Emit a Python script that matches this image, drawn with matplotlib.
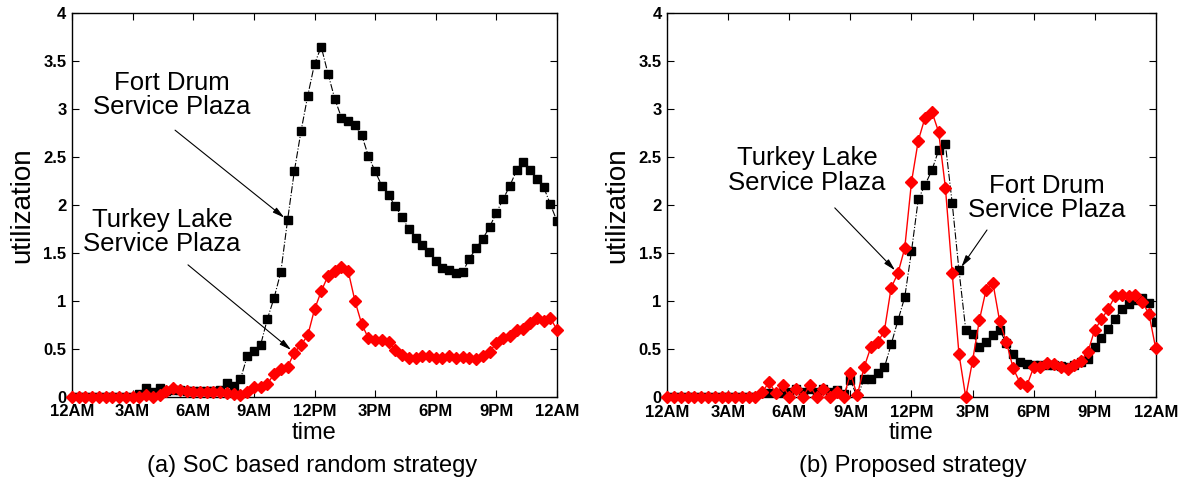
import numpy as np
import matplotlib
matplotlib.use("Agg")
import matplotlib.pyplot as plt

plt.rcParams['font.family'] = ['Liberation Sans', 'DejaVu Sans']

# ---------------- data (20-minute samples over one day) ----------------
tick_labels = ['12AM', '3AM', '6AM', '9AM', '12PM', '3PM', '6PM', '9PM', '12AM']
tick_hours = [0, 3, 6, 9, 12, 15, 18, 21, 24]
hours = np.arange(73) / 3.0

fort_drum_random = [0, 0, 0, 0, 0, 0, 0, 0, 0, 0, 0.03,
                    0.09, 0.05, 0.09, 0.06, 0.07, 0.07, 0.06, 0.06, 0.06, 0.06,
                    0.06, 0.07, 0.14, 0.11, 0.18, 0.42, 0.48, 0.54, 0.81, 1.03,
                    1.30, 1.84, 2.35, 2.77, 3.14, 3.47, 3.65, 3.37, 3.11, 2.91,
                    2.88, 2.83, 2.73, 2.51, 2.35, 2.20, 2.10, 1.99, 1.87, 1.75,
                    1.66, 1.58, 1.51, 1.42, 1.34, 1.32, 1.29, 1.30, 1.44, 1.55,
                    1.65, 1.77, 1.92, 2.06, 2.20, 2.36, 2.45, 2.36, 2.27, 2.19,
                    2.01, 1.83]

turkey_lake_random = [0, 0, 0, 0, 0, 0, 0, 0, 0, 0, 0,
                      0.02, 0.0, 0.02, 0.06, 0.09, 0.07, 0.06, 0.05, 0.05, 0.05,
                      0.05, 0.05, 0.04, 0.03, 0.02, 0.05, 0.10, 0.10, 0.13, 0.24,
                      0.29, 0.31, 0.46, 0.54, 0.64, 0.91, 1.10, 1.26, 1.31, 1.35,
                      1.31, 1.00, 0.76, 0.61, 0.59, 0.59, 0.57, 0.49, 0.43, 0.40,
                      0.40, 0.42, 0.42, 0.40, 0.40, 0.42, 0.40, 0.41, 0.40, 0.39,
                      0.42, 0.47, 0.56, 0.61, 0.63, 0.70, 0.71, 0.77, 0.82, 0.79,
                      0.82, 0.70]

fort_drum_proposed = [0, 0, 0, 0, 0, 0, 0, 0, 0, 0, 0, 0, 0, 0,
                      0.02, 0.04, 0.0, 0.05, 0.05, 0.09, 0.05, 0.09, 0.05, 0.09,
                      0.05, 0.08, 0.03, 0.18, 0.0, 0.19, 0.19, 0.25, 0.31, 0.55,
                      0.80, 1.04, 1.52, 2.06, 2.21, 2.36, 2.57, 2.63, 2.02, 1.32,
                      0.70, 0.66, 0.52, 0.58, 0.65, 0.70, 0.56, 0.45, 0.37, 0.35,
                      0.34, 0.34, 0.34, 0.34, 0.33, 0.32, 0.34, 0.37, 0.40, 0.52,
                      0.62, 0.71, 0.81, 0.92, 0.97, 1.01, 1.03, 0.98, 0.78]

turkey_lake_proposed = [0, 0, 0, 0, 0, 0, 0, 0, 0, 0, 0, 0, 0, 0,
                        0.05, 0.16, 0.04, 0.13, 0.0, 0.09, 0.0, 0.13, 0.0, 0.09,
                        0.0, 0.05, 0.0, 0.25, 0.02, 0.31, 0.52, 0.57, 0.69, 1.14,
                        1.29, 1.55, 2.24, 2.67, 2.91, 2.97, 2.76, 2.18, 1.29, 0.45,
                        0.0, 0.38, 0.80, 1.12, 1.19, 0.79, 0.57, 0.30, 0.15, 0.12,
                        0.31, 0.31, 0.36, 0.35, 0.32, 0.29, 0.34, 0.38, 0.47, 0.70,
                        0.81, 0.92, 1.05, 1.06, 1.05, 1.06, 0.99, 0.87, 0.51]

captions = ['(a) SoC based random strategy', '(b) Proposed strategy']

# ---------------- figure ----------------
W, H = 1180, 482
fig = plt.figure(figsize=(W / 100, H / 100), dpi=100)

ax_l = fig.add_axes([72 / W, (H - 396.7) / H, 485 / W, 383.5 / H])
ax_r = fig.add_axes([667.3 / W, (H - 397.3) / H, 488.4 / W, 384.6 / H])


def style_axis(ax, black, red):
    ax.plot(hours, black, linestyle='-.', color='black', lw=0.8,
            marker='s', markersize=6, markerfacecolor='black',
            markeredgecolor='black', zorder=3)
    ax.plot(hours, red, linestyle='-', color='red', lw=1.0,
            marker='D', markersize=6, markerfacecolor='red',
            markeredgecolor='red', zorder=4, clip_on=False)
    ax.set_xlim(0, 24)
    ax.set_ylim(0, 4)
    ax.set_xticks(tick_hours)
    ax.set_xticklabels(tick_labels)
    ax.set_yticks([0, 0.5, 1, 1.5, 2, 2.5, 3, 3.5, 4])
    ax.set_yticklabels(['0', '0.5', '1', '1.5', '2', '2.5', '3', '3.5', '4'])
    ax.tick_params(direction='in', top=True, right=True, length=5, width=0.8,
                   labelsize=12, pad=4)
    ax.tick_params(axis='x', pad=5.5)
    for lab in ax.get_xticklabels() + ax.get_yticklabels():
        lab.set_fontweight('bold')
    for sp in ax.spines.values():
        sp.set_linewidth(1.0)
    ax.set_ylabel('utilization', fontsize=20, va='center')
    ax.yaxis.set_label_coords(-50 / 485, 0.5)
    ax.set_xlabel('time', fontsize=17, va='center')
    ax.xaxis.set_label_coords(0.5, -36 / 384)


style_axis(ax_l, fort_drum_random, turkey_lake_random)
style_axis(ax_r, fort_drum_proposed, turkey_lake_proposed)

arrow = dict(arrowstyle='-|>,head_length=0.7,head_width=0.18', color='black',
             lw=0.8, shrinkA=0, shrinkB=3)
txt_kw = dict(fontsize=18.5, ha='center', va='center', linespacing=1.02)

# left annotations
ax_l.text(4.95, 3.15, 'Fort Drum\nService Plaza', **txt_kw)
ax_l.annotate('', xy=(hours[32], fort_drum_random[32]), xytext=(5.10, 2.78),
              arrowprops=arrow)
ax_l.text(4.45, 1.72, 'Turkey Lake\nService Plaza', **txt_kw)
ax_l.annotate('', xy=(hours[33], turkey_lake_random[33]), xytext=(5.74, 1.375),
              arrowprops=arrow)

# right annotations
ax_r.text(6.86, 2.36, 'Turkey Lake\nService Plaza', **txt_kw)
ax_r.annotate('', xy=(hours[34], turkey_lake_proposed[34]), xytext=(8.23, 1.97),
              arrowprops=arrow)
ax_r.text(18.66, 2.07, 'Fort Drum\nService Plaza', **txt_kw)
ax_r.annotate('', xy=(hours[43], fort_drum_proposed[43]), xytext=(15.71, 1.74),
              arrowprops=arrow)

fig.text(312 / W, 1 - 466 / H, captions[0], fontsize=17, ha='center', va='center')
fig.text(913 / W, 1 - 466 / H, captions[1], fontsize=17, ha='center', va='center')

fig.savefig('out.png', dpi=100)
